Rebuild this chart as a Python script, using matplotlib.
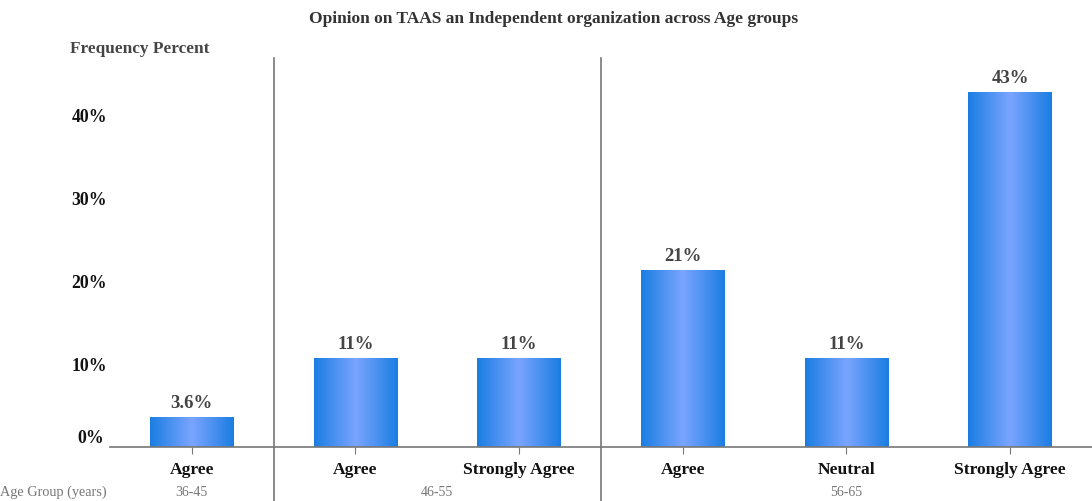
import matplotlib.pyplot as plt
import numpy as np
from matplotlib.colors import LinearSegmentedColormap

plt.rcParams['font.family'] = ['Liberation Serif', 'DejaVu Serif']

# responses per age group and opinion
categories = ['Agree', 'Agree', 'Strongly Agree', 'Agree', 'Neutral', 'Strongly Agree']
percent = [3.57, 10.71, 10.71, 21.43, 10.71, 42.86]
groups = ['36-45', '46-55', '56-65']
group_sizes = [1, 2, 3]
yticks = [0, 10, 20, 30, 40]

fig = plt.figure(figsize=(10.92, 5.01), dpi=100)
ax = fig.add_axes([0.1007, 0.1078, 0.8993, 0.7764])

x = np.arange(len(categories))
width = 0.51
bars = ax.bar(x, percent, width=width, color='none', edgecolor='none')

# horizontal gradient fill for each bar
cmap = LinearSegmentedColormap.from_list('barblue', ['#1a7de2', '#7ba5ff', '#1a7de2'])
grad = np.linspace(0, 1, 256).reshape(1, -1)
for b in bars:
    x0, y0 = b.get_x(), b.get_y()
    im = ax.imshow(grad, cmap=cmap, aspect='auto', interpolation='bicubic',
                   extent=[x0, x0 + b.get_width(), y0, y0 + b.get_height()], zorder=2)
    im.set_clip_path(b)

for xi, v in zip(x, percent):
    ax.text(xi, v + 0.6, '{:.2g}%'.format(v), ha='center', va='bottom',
            fontsize=13.5, fontweight='bold', color='#444444')

ax.set_xlim(-0.5, len(categories) - 0.5)
ax.set_ylim(0, 47)

ax.set_xticks(x)
ax.set_xticklabels(categories, fontsize=12.6, fontweight='bold', color='#111111')
ax.tick_params(axis='x', length=5, color='#777777', pad=6)
ax.set_yticks(yticks)
ax.set_yticklabels([f'{t}%' if t else '' for t in yticks], fontsize=12.8,
                   fontweight='bold', color='#111111')
ax.tick_params(axis='y', length=0, pad=2)
ax.text(-0.006, 0.0, '0%', transform=ax.transAxes, ha='right', va='bottom',
        fontsize=12.8, fontweight='bold', color='#111111')

for s in ['top', 'right', 'left']:
    ax.spines[s].set_visible(False)
ax.spines['bottom'].set_color('#777777')
ax.spines['bottom'].set_linewidth(1.2)

# group separators and age group labels
bounds = np.cumsum(group_sizes)
start = 0
for g, n in zip(groups, group_sizes):
    ax.text(start + (n - 1) / 2, -0.116, g, transform=ax.get_xaxis_transform(),
            ha='center', va='center', fontsize=10, color='#777777')
    start += n
for b in bounds[:-1]:
    ax.plot([b - 0.5, b - 0.5], [1, -0.2], transform=ax.get_xaxis_transform(),
            color='#777777', lw=1.2, clip_on=False)

fig.text(0.0, 0.018, 'Age Group (years)', ha='left', va='center', fontsize=10.3, color='#777777')
fig.text(0.064, 0.903, 'Frequency Percent', ha='left', va='center', fontsize=12.4,
         fontweight='bold', color='#444444')
fig.text(0.507, 0.963, 'Opinion on TAAS an Independent organization across Age groups',
         ha='center', va='center', fontsize=12.5, fontweight='bold', color='#333333')

fig.savefig('out.png', dpi=100)
